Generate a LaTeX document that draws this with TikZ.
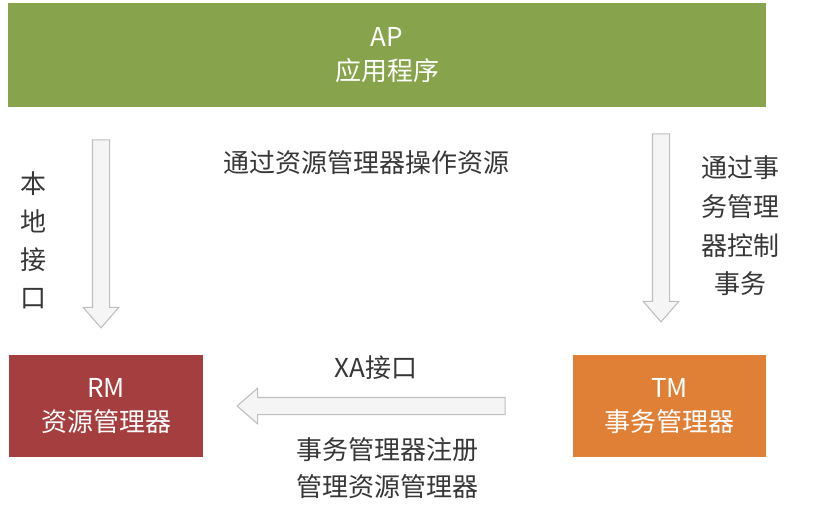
\documentclass[tikz,border=0pt]{standalone}
\usepackage{fontspec}
\setmainfont{Noto Sans CJK SC}
\usetikzlibrary{shapes.arrows,positioning}
\definecolor{apgreen}{RGB}{135,164,76}
\definecolor{rmred}{RGB}{165,62,62}
\definecolor{tmorange}{RGB}{223,128,54}
\definecolor{arrowgray}{RGB}{190,190,190}
\definecolor{notegray}{RGB}{55,55,55}

\begin{document}
\begin{tikzpicture}[
    x=0.75pt, y=-0.75pt,
    box/.style={rectangle, text=white, align=center, inner sep=0pt, font=\fontsize{19.5}{26}\selectfont},
    note/.style={align=center, text=notegray, inner sep=0pt, font=\fontsize{19.5}{28.5}\selectfont},
    bigarrow/.style={single arrow, draw=arrowgray, fill=black!4, line width=0.8pt, inner sep=6pt,
        single arrow head extend=7pt, single arrow tip angle=82}
]
\useasboundingbox (0,0) rectangle (820,528);

\node[box, fill=apgreen, minimum width=568.5pt, minimum height=78pt] (ap) at (387,55) {AP\\应用程序};
\node[box, fill=rmred, minimum width=145.5pt, minimum height=77pt] (rm) at (106,406) {RM\\资源管理器};
\node[box, fill=tmorange, minimum width=145pt, minimum height=77pt] (tm) at (669.5,406) {TM\\事务管理器};

\node[bigarrow, minimum height=141pt, shape border rotate=270] (local) at (101,229) {};
\node[bigarrow, minimum height=141pt, shape border rotate=270] (ctrl) at (661,223) {};
\node[bigarrow, minimum height=201pt, shape border rotate=180] (xa) at (376,406) {};

\node[note] (localtxt) at (34,240) {本\\地\\接\\口};
\node[note] (optxt) at (366,163) {通过资源管理器操作资源};
\node[note, font=\fontsize{19.5}{29}\selectfont] (ctrltxt) at (740,226) {通过事\\务管理\\器控制\\事务};
\node[note] (xatxt) at (376,368) {XA接口};
\node[note, font=\fontsize{19.5}{28}\selectfont] (regtxt) at (387,468) {事务管理器注册\\管理资源管理器};

\end{tikzpicture}
\end{document}
